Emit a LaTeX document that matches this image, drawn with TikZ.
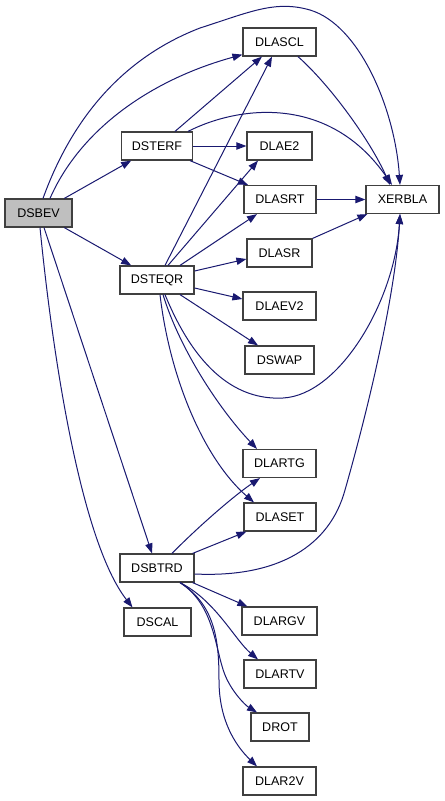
\documentclass[tikz,border=0pt]{standalone}
\usepackage{fontspec}
\setmainfont{Liberation Sans}
\usetikzlibrary{arrows.meta,calc}
\definecolor{edgec}{HTML}{191970}
\definecolor{boxc}{HTML}{404040}
\definecolor{hl}{HTML}{BFBFBF}
\tikzset{
  fn/.style={draw=boxc, line width=0.9pt, fill=white, rectangle, inner sep=0pt,
    minimum height=21pt, font=\fontsize{9.4}{11}\selectfont, text=black},
  e/.style={draw=edgec, line width=0.75pt, -{Triangle[length=7.5pt,width=5.5pt]}, fill=none},
}
\begin{document}
\begin{tikzpicture}[x=0.75pt,y=-0.75pt]
\useasboundingbox (0,0) rectangle (445,801);
% nodes
\node[fn, fill=hl, minimum width=50.25pt] (dsbev) at (38.5,213) {DSBEV};
\node[fn, minimum width=53.25pt] (dsterf) at (157,146) {DSTERF};
\node[fn, minimum width=55.5pt] (dsteqr) at (157,280) {DSTEQR};
\node[fn, minimum width=55.5pt] (dsbtrd) at (157,568) {DSBTRD};
\node[fn, minimum width=50.25pt] (dscal) at (157.5,622) {DSCAL};
\node[fn, minimum width=54.75pt] (dlascl) at (279.5,42) {DLASCL};
\node[fn, minimum width=48.75pt] (dlae2) at (279.5,146) {DLAE2};
\node[fn, minimum width=54pt] (dlasrt) at (280,199.5) {DLASRT};
\node[fn, minimum width=48.75pt] (dlasr) at (279.5,253) {DLASR};
\node[fn, minimum width=54.75pt] (dlaev2) at (279.5,306) {DLAEV2};
\node[fn, minimum width=51.75pt] (dswap) at (279.5,360) {DSWAP};
\node[fn, minimum width=54.75pt] (dlartg) at (279.5,463.5) {DLARTG};
\node[fn, minimum width=54pt] (dlaset) at (280,517) {DLASET};
\node[fn, minimum width=56.25pt] (dlargv) at (279.5,621) {DLARGV};
\node[fn, minimum width=54pt] (dlartv) at (280,674) {DLARTV};
\node[fn, minimum width=43.5pt] (drot) at (280,727) {DROT};
\node[fn, minimum width=54.75pt] (dlar2v) at (279.5,781) {DLAR2V};
\node[fn, minimum width=54.75pt] (xerbla) at (402.5,199.5) {XERBLA};
% DSBEV edges
\draw[e] ($(dsbev.north)+(4.5,0)$) .. controls (75,110) and (130,55) .. (200,28)
  .. controls (250,12) and (275,0) .. (310,10)
  .. controls (360,25) and (395,110) .. ($(xerbla.north)+(-2.5,0)$);
\draw[e] ($(dsbev.north)+(11.5,0)$) .. controls (80,130) and (150,80) .. ($(dlascl.south west)+(0,-2)$);
\draw[e] (dsbev) -- (dsterf);
\draw[e] (dsbev) -- (dsteqr);
\draw[e] ($(dsbev.south)+(5.5,0)$) -- ($(dsbtrd.north)+(-5,0)$);
\draw[e] ($(dsbev.south)+(1.5,0)$) .. controls (52,350) and (80,540) .. ($(dscal.north)+(-25,0)$);
% DSTERF edges
\draw[e] ($(dsterf.north)+(18,0)$) -- ($(dlascl.south)+(-17.5,0)$);
\draw[e] ($(dsterf.north)+(31,0)$) .. controls (240,105) and (330,95) .. ($(xerbla.north)+(-10.5,0)$);
\draw[e] (dsterf.east) -- (dlae2.west);
\draw[e] ($(dsterf.south)+(33,0)$) -- ($(dlasrt.north)+(-32,0)$);
% to XERBLA
\draw[e] ($(dlascl.south)+(18.5,0)$) .. controls (330,85) and (370,140) .. ($(xerbla.north)+(-12.5,0)$);
\draw[e] (dlasrt.east) -- (xerbla.west);
\draw[e] (dlasr.north east) -- ($(xerbla.south west)+(2,0)$);
% DSTEQR edges
\draw[e] ($(dsteqr.north)+(8,0)$) -- ($(dlascl.south)+(-7.5,0)$);
\draw[e] ($(dsteqr.north)+(11,0)$) -- ($(dlae2.south)+(-21.5,0)$);
\draw[e] ($(dsteqr.north)+(23,0)$) -- ($(dlasrt.south)+(-23,0)$);
\draw[e] ($(dsteqr.east)+(0,-9)$) -- ($(dlasr.west)+(0,6)$);
\draw[e] ($(dsteqr.east)+(0,8)$) -- ($(dlaev2.west)+(0,-7)$);
\draw[e] ($(dsteqr.south)+(23,0)$) -- ($(dswap.north)+(-21.5,0)$);
\draw[e] ($(dsteqr.south)+(8,0)$) .. controls (200,380) and (245,400) .. (283,398)
  .. controls (340,395) and (395,300) .. ($(xerbla.south)+(-2.5,0)$);
\draw[e] ($(dsteqr.south)+(6,0)$) .. controls (180,350) and (220,410) .. ($(dlartg.north)+(-22.5,0)$);
\draw[e] ($(dsteqr.south)+(3,0)$) .. controls (170,380) and (205,460) .. ($(dlaset.north)+(-26,0)$);
% DSBTRD edges
\draw[e] ($(dsbtrd.north)+(15,0)$) .. controls (200,525) and (235,495) .. ($(dlartg.south)+(-19.5,0)$);
\draw[e] ($(dsbtrd.north east)+(-2,0)$) -- ($(dlaset.south west)+(3,0)$);
\draw[e] ($(dsbtrd.east)+(0,6)$) .. controls (280,578) and (330,545) .. (345,490)
  .. controls (365,420) and (395,300) .. ($(xerbla.south)+(-2.5,0)$);
\draw[e] ($(dsbtrd.south east)+(-2,0)$) -- ($(dlargv.north west)+(6,0)$);
\draw[e] ($(dsbtrd.south)+(23,0)$) .. controls (215,600) and (235,640) .. ($(dlartv.north)+(-22,0)$);
\draw[e] ($(dsbtrd.south)+(23,0)$) .. controls (215,605) and (215,650) .. (225,675)
  .. controls (232,692) and (245,705) .. ($(drot.north)+(-23,0)$);
\draw[e] ($(dsbtrd.south)+(23,0)$) .. controls (215,605) and (219,640) .. (219,680)
  .. controls (219,720) and (235,745) .. ($(dlar2v.north)+(-22.5,0)$);
\end{tikzpicture}
\end{document}
